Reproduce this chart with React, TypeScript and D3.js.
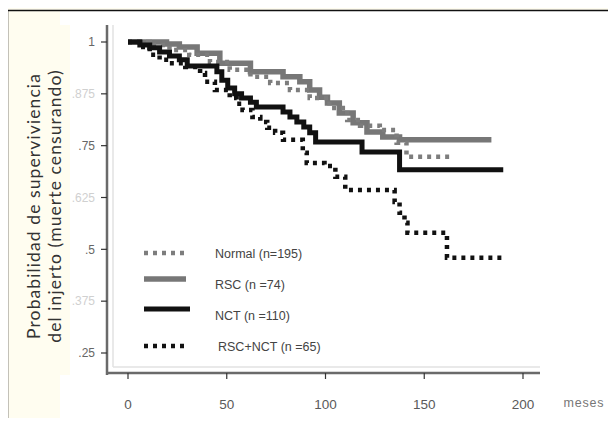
import React, { useEffect, useRef } from 'react';
import * as d3 from 'd3';

// Kaplan-Meier curves: [meses, probabilidad] at each step
const normalCurve: [number, number][] = [
  [0, 1], [11, 0.993], [21, 0.981], [31, 0.969], [41.5, 0.952], [51.5, 0.933], [62, 0.916],
  [72, 0.901], [82, 0.884], [92, 0.865], [102, 0.841], [111, 0.812], [117.5, 0.798],
  [127.5, 0.788], [136, 0.757], [141, 0.723], [163, 0.723]
];
const rscCurve: [number, number][] = [
  [0, 1], [19.5, 0.995], [26, 0.988], [35, 0.973], [46.5, 0.949], [62, 0.928], [78.5, 0.916],
  [87, 0.904], [92, 0.884], [97, 0.867], [101, 0.853], [107, 0.829], [114, 0.805],
  [121, 0.783], [129, 0.771], [137.5, 0.764], [184, 0.764]
];
const nctCurve: [number, number][] = [
  [0, 1], [6, 0.993], [11, 0.986], [16, 0.976], [21, 0.966], [26, 0.957], [30, 0.942],
  [45, 0.928], [47.5, 0.908], [50.5, 0.889], [54, 0.875], [57.5, 0.865], [62, 0.855],
  [65, 0.843], [78.5, 0.831], [82, 0.819], [85.5, 0.807], [89, 0.795], [92, 0.781],
  [95, 0.759], [118.5, 0.735], [137.5, 0.692], [190, 0.692]
];
const rscNctCurve: [number, number][] = [
  [0, 1], [6, 0.988], [11, 0.969], [16, 0.957], [21, 0.949], [29, 0.94], [36.5, 0.925],
  [39, 0.904], [44, 0.884], [51.5, 0.865], [55, 0.851], [58, 0.836], [63, 0.819],
  [67, 0.807], [70.5, 0.793], [74.5, 0.781], [78.5, 0.764], [88.5, 0.733], [90.5, 0.708],
  [99.5, 0.701], [105, 0.675], [110, 0.643], [135, 0.614], [137.5, 0.588], [140, 0.564],
  [141.5, 0.54], [161.5, 0.48], [189.5, 0.48]
];

const seriesNames = ['Normal (n=195)', 'RSC (n =74)', 'NCT (n =110)', 'RSC+NCT (n =65)'];
const xTicks = [0, 50, 100, 150, 200];
const yTicks = [1, 0.875, 0.75, 0.625, 0.5, 0.375, 0.25];
const yTickLabels = ['1', '.875', '.75', '.625', '.5', '.375', '.25'];
const yTitle = ['Probabilidad de superviviencia', 'del injerto (muerte censurando)'];

const SurvivalChart = () => {
  const svgRef = useRef<SVGSVGElement>(null);

  useEffect(() => {
    const svg = d3.select(svgRef.current);
    const width = 616;
    const height = 426;
    svg.selectAll('*').remove();

    const x = d3.scaleLinear().domain([0, 200]).range([128, 523]);
    const y = d3.scaleLinear().domain([0.25, 1]).range([353, 42]);

    // background, scanned page look
    svg.append('rect').attr('width', width).attr('height', height).attr('fill', '#fffdf0');
    svg.append('rect').attr('x', 60).attr('y', 11).attr('width', width - 60).attr('height', height - 11).attr('fill', '#fff');
    svg.append('rect').attr('x', 60).attr('y', 25).attr('width', 10).attr('height', 350).attr('fill', '#fffdf0');
    svg.append('line').attr('x1', 7).attr('x2', width).attr('y1', 10.5).attr('y2', 10.5)
      .attr('stroke', '#111').attr('stroke-width', 1.5);
    svg.append('line').attr('x1', 7.5).attr('x2', 7.5).attr('y1', 10).attr('y2', height)
      .attr('stroke', '#111').attr('stroke-width', 1.5);

    // y title
    yTitle.forEach((t, i) => {
      svg.append('text')
        .attr('transform', `translate(${40 + i * 21},206) rotate(-90)`)
        .attr('text-anchor', 'middle')
        .attr('font-family', 'Lato, sans-serif')
        .attr('font-size', 17.5)
        .attr('letter-spacing', 1.1)
        .attr('fill', '#333')
        .text(t);
    });

    // axes
    const axisColor = '#6a6a6a';
    svg.append('line').attr('x1', 113).attr('x2', 113).attr('y1', 25).attr('y2', 367)
      .attr('stroke', '#e2e2e2').attr('stroke-width', 1.5);
    svg.append('line').attr('x1', 113).attr('x2', 540).attr('y1', 367).attr('y2', 367)
      .attr('stroke', '#e2e2e2').attr('stroke-width', 1.5);
    svg.append('line').attr('x1', 107).attr('x2', 107).attr('y1', 25).attr('y2', 375)
      .attr('stroke', axisColor).attr('stroke-width', 2.5);
    svg.append('line').attr('x1', 106).attr('x2', 540).attr('y1', 373).attr('y2', 373)
      .attr('stroke', axisColor).attr('stroke-width', 2.5);

    const yAxis = svg.append('g');
    yTicks.forEach((v, i) => {
      yAxis.append('line').attr('x1', 101).attr('x2', 107).attr('y1', y(v)).attr('y2', y(v))
        .attr('stroke', '#333').attr('stroke-width', 1.2);
      const major = i % 2 === 0;
      yAxis.append('text')
        .attr('x', 95).attr('y', y(v)).attr('dy', '0.35em')
        .attr('text-anchor', 'end')
        .attr('font-family', 'Liberation Sans, Arial, sans-serif')
        .attr('font-size', 12)
        .attr('fill', major ? '#666' : '#d0d0d0')
        .text(yTickLabels[i]);
    });

    const xAxis = svg.append('g');
    xTicks.forEach(v => {
      xAxis.append('line').attr('x1', x(v)).attr('x2', x(v)).attr('y1', 373).attr('y2', 379)
        .attr('stroke', '#333').attr('stroke-width', 1.2);
      xAxis.append('text')
        .attr('x', x(v)).attr('y', 404).attr('dy', '0.35em')
        .attr('text-anchor', 'middle')
        .attr('font-family', 'Liberation Sans, Arial, sans-serif')
        .attr('font-size', 13.5)
        .attr('fill', '#5a5a5a')
        .text(v);
    });
    svg.append('text')
      .attr('x', 584).attr('y', 403).attr('dy', '0.35em')
      .attr('text-anchor', 'middle')
      .attr('font-family', 'Liberation Sans, Arial, sans-serif')
      .attr('font-size', 12.5)
      .attr('letter-spacing', 0.8)
      .attr('fill', '#777')
      .text('meses');

    // curves
    const line = d3.line<[number, number]>()
      .x(d => x(d[0]))
      .y(d => y(d[1]))
      .curve(d3.curveStepAfter);

    const styles = [
      { data: normalCurve, color: '#7d7d7d', width: 4.5, dash: '4 5' },
      { data: rscCurve, color: '#777', width: 5.5, dash: null },
      { data: nctCurve, color: '#111', width: 5, dash: null },
      { data: rscNctCurve, color: '#111', width: 4.5, dash: '4 5' }
    ];

    const drawOrder = [1, 0, 2, 3];
    drawOrder.forEach(i => {
      const s = styles[i];
      svg.append('path')
        .attr('d', line(s.data))
        .attr('fill', 'none')
        .attr('stroke', s.color)
        .attr('stroke-width', s.width)
        .attr('stroke-dasharray', s.dash)
        .attr('stroke-linejoin', 'miter');
    });

    // legend
    const legendY = [253, 279, 309, 346];
    const legendTextY = [254, 285, 316, 347];
    const legend = svg.append('g');
    styles.forEach((s, i) => {
      legend.append('line')
        .attr('x1', 144).attr('x2', i === 2 ? 190 : 186)
        .attr('y1', legendY[i]).attr('y2', legendY[i])
        .attr('stroke', s.color)
        .attr('stroke-width', s.width)
        .attr('stroke-dasharray', s.dash);
      legend.append('text')
        .attr('x', i === 3 ? 218 : 215).attr('y', legendTextY[i]).attr('dy', '0.35em')
        .attr('font-family', 'Liberation Sans, Arial, sans-serif')
        .attr('font-size', 12.5)
        .attr('fill', '#444')
        .text(seriesNames[i]);
    });
  }, []);

  return <svg ref={svgRef} width={616} height={426} style={{ display: 'block' }}></svg>;
};

export default function App() {
  return (
    <div style={{ margin: -8 }}>
      <SurvivalChart />
    </div>
  );
}
